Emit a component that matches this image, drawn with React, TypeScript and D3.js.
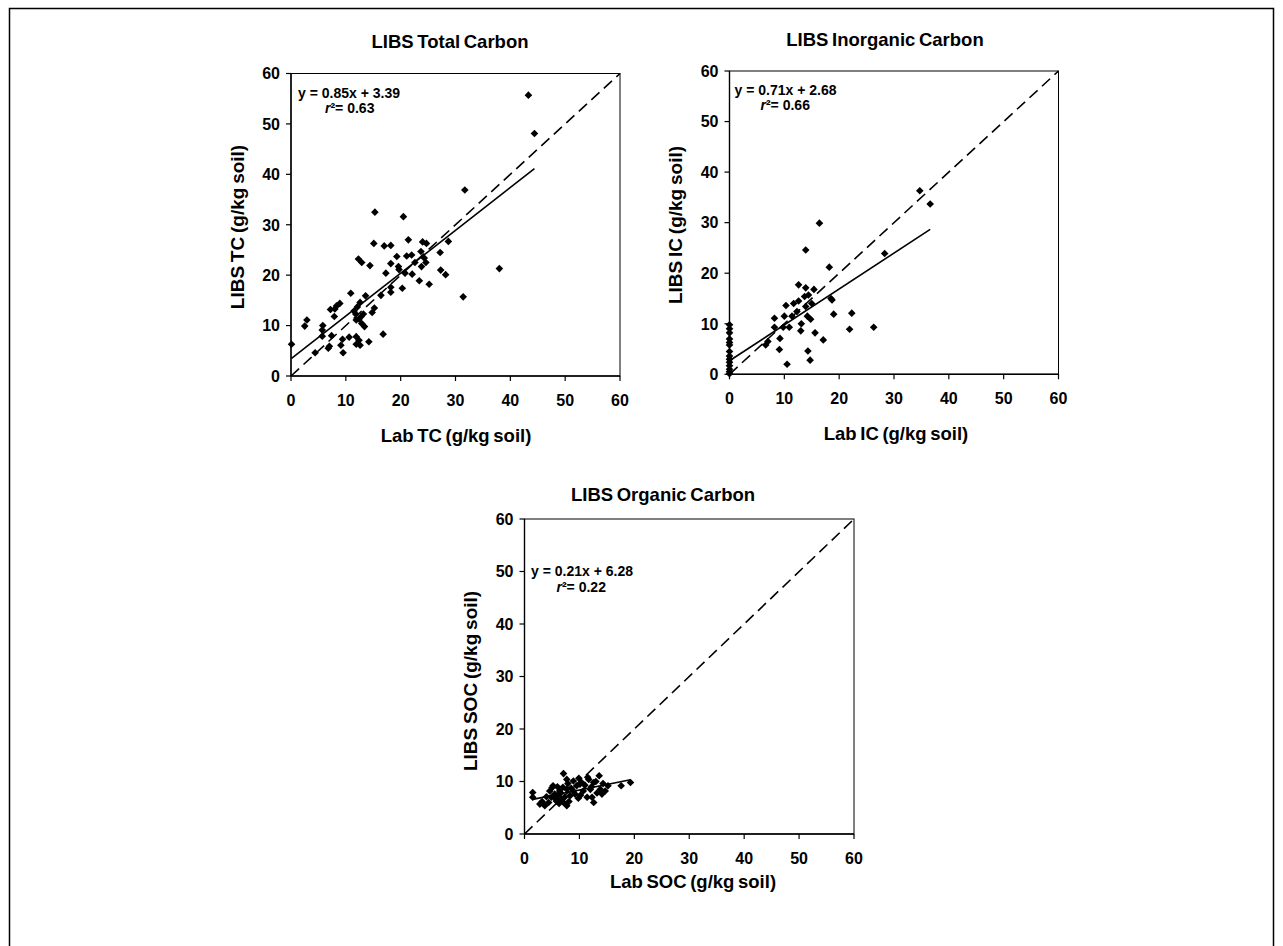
import React from 'react';
import * as d3 from 'd3';

const axisTicks = [0, 10, 20, 30, 40, 50, 60];

const tcData: [number, number][] = [
  [43.3, 55.7], [44.4, 48.1], [31.7, 36.9], [15.3, 32.5], [20.5, 31.6], [15.1, 26.3], [17.0, 25.8],
  [18.2, 25.9], [21.4, 27.0], [24.0, 26.6], [24.7, 26.3], [28.7, 26.7], [23.7, 24.7], [27.2, 24.5],
  [19.3, 23.7], [21.1, 23.8], [12.3, 23.2], [12.9, 22.5], [14.4, 21.9], [18.2, 22.3], [19.6, 21.7],
  [19.7, 21.1], [22.6, 22.5], [23.8, 21.7], [24.6, 22.5], [17.3, 20.4], [20.8, 20.4], [22.1, 20.2],
  [27.3, 21.0], [28.2, 20.1], [38.0, 21.3], [23.4, 18.9], [25.2, 18.2], [20.3, 17.4], [18.2, 17.6],
  [18.2, 16.6], [16.4, 16.0], [10.9, 16.4], [13.6, 15.9], [31.4, 15.7], [8.9, 14.4], [8.3, 13.9],
  [7.2, 13.2], [8.0, 13.3], [12.6, 14.6], [12.1, 13.7], [15.2, 13.5], [14.8, 12.6], [11.5, 12.9],
  [7.9, 11.8], [12.8, 11.8], [11.9, 11.1], [12.9, 10.4], [13.4, 9.8], [2.9, 11.1], [2.5, 9.9],
  [5.8, 10.0], [5.7, 9.1], [5.7, 7.9], [7.4, 8.0], [16.8, 8.3], [9.4, 7.3], [10.6, 7.7], [11.9, 7.8],
  [12.4, 7.1], [14.2, 6.8], [7.0, 5.9], [6.8, 5.5], [9.1, 6.1], [9.5, 4.6], [11.9, 6.3], [12.6, 6.1],
  [4.4, 4.6], [0.1, 6.3], [12.4, 11.3], [11.8, 12.3], [13.2, 12.3], [24.3, 23.4], [22.0, 24.0],
];

const icData: [number, number][] = [
  [34.7, 36.3], [36.6, 33.7], [16.4, 29.9], [28.3, 23.9], [13.9, 24.6], [18.2, 21.2], [12.6, 17.7],
  [13.9, 17.1], [15.4, 16.8], [14.4, 15.7], [13.7, 15.4], [11.7, 14.0], [12.6, 14.5], [10.3, 13.6],
  [13.9, 13.4], [15.0, 14.0], [18.5, 15.0], [18.7, 14.7], [12.3, 12.4], [11.4, 11.5], [14.2, 11.5],
  [14.8, 10.9], [10.0, 11.5], [8.2, 11.1], [19.0, 11.9], [22.3, 12.1], [13.1, 10.0], [8.2, 9.3],
  [9.8, 9.3], [10.9, 9.3], [21.9, 8.9], [26.3, 9.3], [13.0, 8.6], [15.6, 8.2], [9.2, 7.1],
  [17.1, 6.8], [7.0, 6.5], [6.6, 5.8], [9.1, 4.9], [14.3, 4.6], [14.7, 2.8], [10.5, 2.0],
  [0, 9.8], [0, 9.0], [0, 8.2], [0, 7.0], [0, 6.3], [0, 5.8], [0, 4.5], [0, 3.6], [0, 3.0],
  [0, 2.4], [0, 1.7], [0, 1.0], [0, 0.5], [0, 0.1],
];

const socData: [number, number][] = [
  [1.5, 7.9], [1.5, 7.0], [2.8, 5.7], [3.7, 5.4], [4.0, 7.1], [4.6, 8.2], [5.2, 9.2], [5.5, 7.6],
  [5.8, 6.3], [6.4, 8.2], [7.1, 11.5], [7.7, 10.4], [7.7, 8.5], [7.7, 5.4], [6.7, 6.6], [8.3, 7.3],
  [8.9, 10.1], [8.9, 8.2], [9.5, 9.2], [9.8, 6.8], [10.4, 9.8], [10.7, 8.2], [11.7, 10.4], [12.0, 8.5],
  [12.3, 7.0], [12.6, 9.8], [13.6, 11.1], [13.8, 8.5], [14.7, 8.2], [15.2, 9.2], [17.6, 9.2], [19.3, 9.8],
  [4.9, 7.0], [6.1, 7.3], [7.1, 6.0], [11.4, 7.0], [12.6, 6.0], [14.1, 7.6], [3.2, 6.2], [4.4, 6.0],
  [5.0, 8.8], [5.6, 6.8], [6.0, 9.0], [6.6, 7.8], [7.0, 8.9], [7.3, 7.0], [7.9, 9.6], [8.1, 6.2],
  [8.5, 8.7], [9.2, 7.6], [9.9, 10.6], [10.2, 7.4], [11.0, 9.3], [11.5, 10.8], [12.2, 9.0], [13.0, 10.0],
  [13.2, 7.8], [14.3, 9.6], [10.1, 9.5], [6.3, 5.8],
];

const titles = ['LIBS Total Carbon', 'LIBS Inorganic Carbon', 'LIBS Organic Carbon'];
const xTitles = ['Lab TC (g/kg soil)', 'Lab IC (g/kg soil)', 'Lab SOC (g/kg soil)'];
const yTitles = ['LIBS TC (g/kg soil)', 'LIBS IC (g/kg soil)', 'LIBS SOC (g/kg soil)'];
const equations = ['y = 0.85x + 3.39', 'y = 0.71x + 2.68', 'y = 0.21x + 6.28'];
const slopes = [0.85, 0.71, 0.21];
const intercepts = [3.39, 2.68, 6.28];
const r2Labels = ['0.63', '0.66', '0.22'];
const datasets = [tcData, icData, socData];

const layouts = [
  { left: 291, right: 620, top: 73.5, bottom: 376, tx: 450, ty: 47.5, xtx: 456, xty: 442, ytx: 244, yty: 227, edx: 7, edy: 24.5, rdx: 34, rdy: 39.5 },
  { left: 729.5, right: 1058.5, top: 71, bottom: 374.3, tx: 885, ty: 45.5, xtx: 896, xty: 440, ytx: 682, yty: 225, edx: 5, edy: 23.5, rdx: 31, rdy: 39 },
  { left: 524.5, right: 854, top: 519, bottom: 834, tx: 663, ty: 501, xtx: 693, xty: 888, ytx: 477, yty: 681, edx: 6.5, edy: 56.5, rdx: 32, rdy: 73 },
];

const FONT = '"Liberation Sans", Arial, Helvetica, sans-serif';
const diamond = d3.symbol().type(d3.symbolSquare).size(29)();

function Panel({ i }: { i: number }) {
  const L = layouts[i];
  const data = datasets[i];
  const x = d3.scaleLinear().domain([0, 60]).range([L.left, L.right]);
  const y = d3.scaleLinear().domain([0, 60]).range([L.bottom, L.top]);
  const [xmin, xmax] = d3.extent(data, (d) => d[0]) as [number, number];
  const fit = (v: number) => slopes[i] * v + intercepts[i];
  const line = d3.line<[number, number]>().x((d) => x(d[0])).y((d) => y(d[1]));
  const regPath = line([[xmin, fit(xmin)], [xmax, fit(xmax)]]) || '';
  const idPath = line([[0, 0], [60, 60]]) || '';
  return (
    <g fontFamily={FONT} fontWeight="bold" fill="#000">
      <text x={L.tx} y={L.ty} textAnchor="middle" fontSize={18.5} wordSpacing={-1.5}>{titles[i]}</text>
      <rect x={L.left} y={L.top} width={L.right - L.left} height={L.bottom - L.top} fill="#fff" stroke="#000" strokeWidth={1} />
      <path d={idPath} fill="none" stroke="#000" strokeWidth={1.6} strokeDasharray="11,6" />
      <path d={regPath} fill="none" stroke="#000" strokeWidth={1.6} />
      {data.map((d, k) => (
        <path key={k} d={diamond} transform={`translate(${x(d[0])},${y(d[1])}) rotate(45)`} fill="#000" />
      ))}
      <line x1={L.left} x2={L.right} y1={L.bottom} y2={L.bottom} stroke="#000" strokeWidth={1.4} />
      <line x1={L.left} x2={L.left} y1={L.top} y2={L.bottom} stroke="#000" strokeWidth={1.4} />
      {axisTicks.map((t) => (
        <g key={'x' + t}>
          <line x1={x(t)} x2={x(t)} y1={L.bottom} y2={L.bottom + 5} stroke="#000" strokeWidth={1.2} />
          <text x={x(t)} y={L.bottom + 30} textAnchor="middle" fontSize={16}>{t}</text>
        </g>
      ))}
      {axisTicks.map((t) => (
        <g key={'y' + t}>
          <line x1={L.left - 5} x2={L.left} y1={y(t)} y2={y(t)} stroke="#000" strokeWidth={1.2} />
          <text x={L.left - 11} y={y(t)} dy="0.36em" textAnchor="end" fontSize={16}>{t}</text>
        </g>
      ))}
      <text x={L.xtx} y={L.xty} textAnchor="middle" fontSize={18.5} wordSpacing={-1.5}>{xTitles[i]}</text>
      <text transform={`translate(${L.ytx},${L.yty}) rotate(-90)`} textAnchor="middle" fontSize={19} wordSpacing={-1.5}>{yTitles[i]}</text>
      <text x={L.left + L.edx} y={L.top + L.edy} fontSize={14}>{equations[i]}</text>
      <text x={L.left + L.rdx} y={L.top + L.rdy} fontSize={14}>
        <tspan fontStyle="italic">r</tspan>
        <tspan>{'\u00B2= ' + r2Labels[i]}</tspan>
      </text>
    </g>
  );
}

export default function App() {
  return (
    <svg width={1283} height={946} style={{ position: 'absolute', left: 0, top: 0, background: '#fff' }}>
      <rect x={0} y={0} width={1283} height={946} fill="#fff" />
      <path d="M9.5,1000 L9.5,8.5 L1273.5,8.5 L1273.5,1000" fill="none" stroke="#000" strokeWidth={1.5} />
      {[0, 1, 2].map((i) => (
        <Panel key={i} i={i} />
      ))}
    </svg>
  );
}
